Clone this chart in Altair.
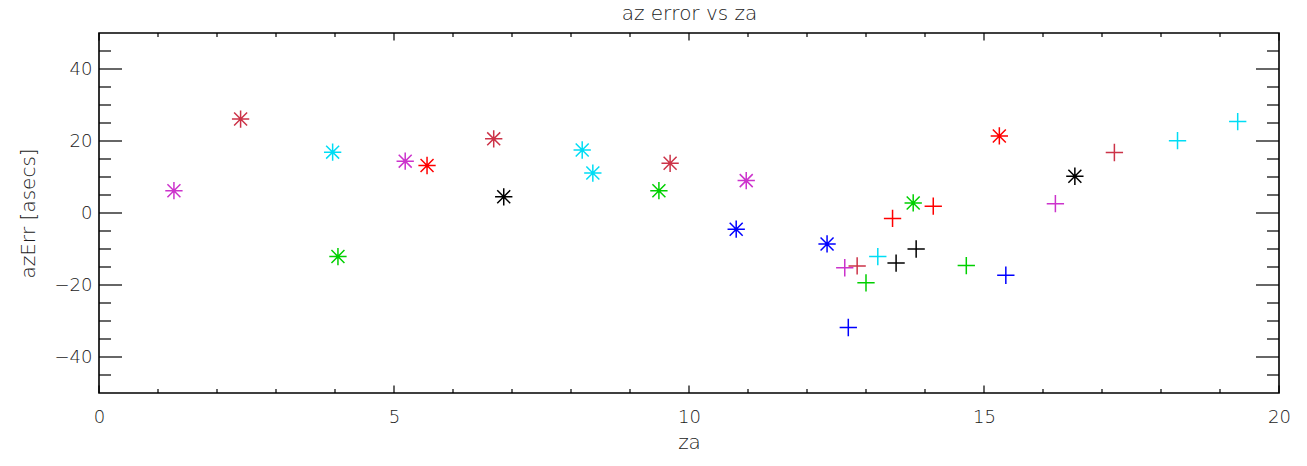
import altair as alt
import pandas as pd

# asterisk series (psym=2)
star_za = [1.27, 2.40, 3.96, 4.05, 5.19, 5.56, 6.69, 6.86, 8.19, 8.37, 9.49, 9.68, 10.80, 10.97, 12.34, 13.80, 15.26, 16.54]
star_err = [6.2, 26.1, 16.9, -12.1, 14.4, 13.2, 20.6, 4.5, 17.5, 11.1, 6.2, 13.8, -4.5, 9.0, -8.6, 2.8, 21.4, 10.2]
star_grp = ["magenta", "crimson", "cyan", "green", "magenta", "red", "crimson", "black", "cyan", "cyan", "green", "crimson", "blue", "magenta", "blue", "green", "red", "black"]

# plus series (psym=1)
plus_za = [12.64, 12.70, 12.85, 13.00, 13.20, 13.45, 13.51, 13.85, 14.14, 14.70, 15.37, 16.21, 17.21, 18.28, 19.30]
plus_err = [-15.2, -31.8, -14.7, -19.4, -12.1, -1.5, -13.9, -10.0, 1.9, -14.6, -17.3, 2.6, 16.8, 20.1, 25.4]
plus_grp = ["magenta", "blue", "crimson", "green", "cyan", "red", "black", "black", "red", "green", "blue", "magenta", "crimson", "cyan", "cyan"]

groups = ["magenta", "crimson", "cyan", "green", "red", "black", "blue"]
group_colors = ["#cc33cc", "#cc3348", "#00ddf5", "#00d000", "#ff0000", "#000000", "#0000ff"]

x_major = [0, 5, 10, 15, 20]
x_minor = [1, 2, 3, 4, 6, 7, 8, 9, 11, 12, 13, 14, 16, 17, 18, 19]
y_major = [-40, -20, 0, 20, 40]
y_minor = [-45, -35, -30, -25, -15, -10, -5, 5, 10, 15, 25, 30, 35, 45]

W, H = 1180, 360
FONT = "DejaVu Sans"
FW = 200
FS = 18
TFS = 20
TXT = "#1a1a1a"

stars = pd.DataFrame({"za": star_za, "azErr": star_err, "grp": star_grp})
pluses = pd.DataFrame({"za": plus_za, "azErr": plus_err, "grp": plus_grp})

xs = alt.Scale(domain=[0, 20], nice=False, zero=False)
ys = alt.Scale(domain=[-50, 50], nice=False, zero=False)
cs = alt.Scale(domain=groups, range=group_colors)

STAR = "M-1,0L1,0M0,-1L0,1M-0.75,-0.75L0.75,0.75M-0.75,0.75L0.75,-0.75"
PLUS = "M-1,0L1,0M0,-1L0,1"

xaxis = alt.Axis(orient="bottom", values=x_major, format="d", grid=False, ticks=False, tickSize=0, domain=False,
                 labelFont=FONT, labelFontSize=FS, labelFontWeight=FW, labelColor=TXT,
                 labelPadding=29, labelBaseline="alphabetic", labelFlush=False,
                 title="za", titleFont=FONT, titleFontSize=TFS, titleFontWeight=FW, titleColor=TXT,
                 titleX=W / 2, titleY=55, titleBaseline="alphabetic")
xaxis_top = alt.Axis(orient="top", values=x_major, grid=False, ticks=False, tickSize=0, domain=False,
                     labels=False,
                     title="az error vs za", titleFont=FONT, titleFontSize=TFS, titleFontWeight=FW, titleColor=TXT,
                     titleX=W / 2, titleY=-14, titleBaseline="alphabetic")
yaxis = alt.Axis(values=y_major, format="d", grid=False, ticks=False, tickSize=0, domain=False,
                 labelFont=FONT, labelFontSize=FS, labelFontWeight=FW, labelColor=TXT,
                 labelPadding=7, labelFlush=False,
                 title="azErr [asecs]", titleFont=FONT, titleFontSize=TFS, titleFontWeight=FW, titleColor=TXT,
                 titleX=-71, titleY=H / 2, titleBaseline="middle", titleAngle=-90)

star_layer = alt.Chart(stars).mark_point(shape=STAR, filled=False, size=300, strokeWidth=1.5, opacity=1).encode(
    x=alt.X("za:Q", scale=xs, axis=xaxis),
    y=alt.Y("azErr:Q", scale=ys, axis=yaxis),
    color=alt.Color("grp:N", scale=cs, legend=None),
)
plus_layer = alt.Chart(pluses).mark_point(shape=PLUS, filled=False, size=300, strokeWidth=1.5, opacity=1).encode(
    x=alt.X("za:Q", scale=xs, axis=xaxis_top),
    y=alt.Y("azErr:Q", scale=ys, axis=None),
    color=alt.Color("grp:N", scale=cs, legend=None),
)

def xticks(vals, length):
    d = pd.DataFrame({"v": vals})
    bottom = alt.Chart(d).mark_rule(color="black", strokeWidth=1.2).encode(
        x=alt.X("v:Q", scale=xs, axis=None), y=alt.value(H), y2=alt.value(H - length))
    top = alt.Chart(d).mark_rule(color="black", strokeWidth=1.2).encode(
        x=alt.X("v:Q", scale=xs, axis=None), y=alt.value(0), y2=alt.value(length))
    return [bottom, top]

def yticks(vals, length):
    d = pd.DataFrame({"v": vals})
    left = alt.Chart(d).mark_rule(color="black", strokeWidth=1.2).encode(
        y=alt.Y("v:Q", scale=ys, axis=None), x=alt.value(0), x2=alt.value(length))
    right = alt.Chart(d).mark_rule(color="black", strokeWidth=1.2).encode(
        y=alt.Y("v:Q", scale=ys, axis=None), x=alt.value(W), x2=alt.value(W - length))
    return [left, right]

tick_layers = xticks(x_major, 7.5) + xticks(x_minor, 4) + yticks(y_major, 23) + yticks(y_minor, 12)

chart = alt.layer(star_layer, plus_layer, *tick_layers).resolve_axis(
    x="independent", y="independent"
).properties(
    width=W, height=H,
    background="white",
    autosize=alt.AutoSizeParams(type="none"),
    padding={"left": 91, "top": 25, "right": 20, "bottom": 70},
).configure_view(stroke="black", strokeWidth=1.6, strokeOpacity=1)

chart.save("out.html", embed_options={"renderer": "svg", "actions": False})
